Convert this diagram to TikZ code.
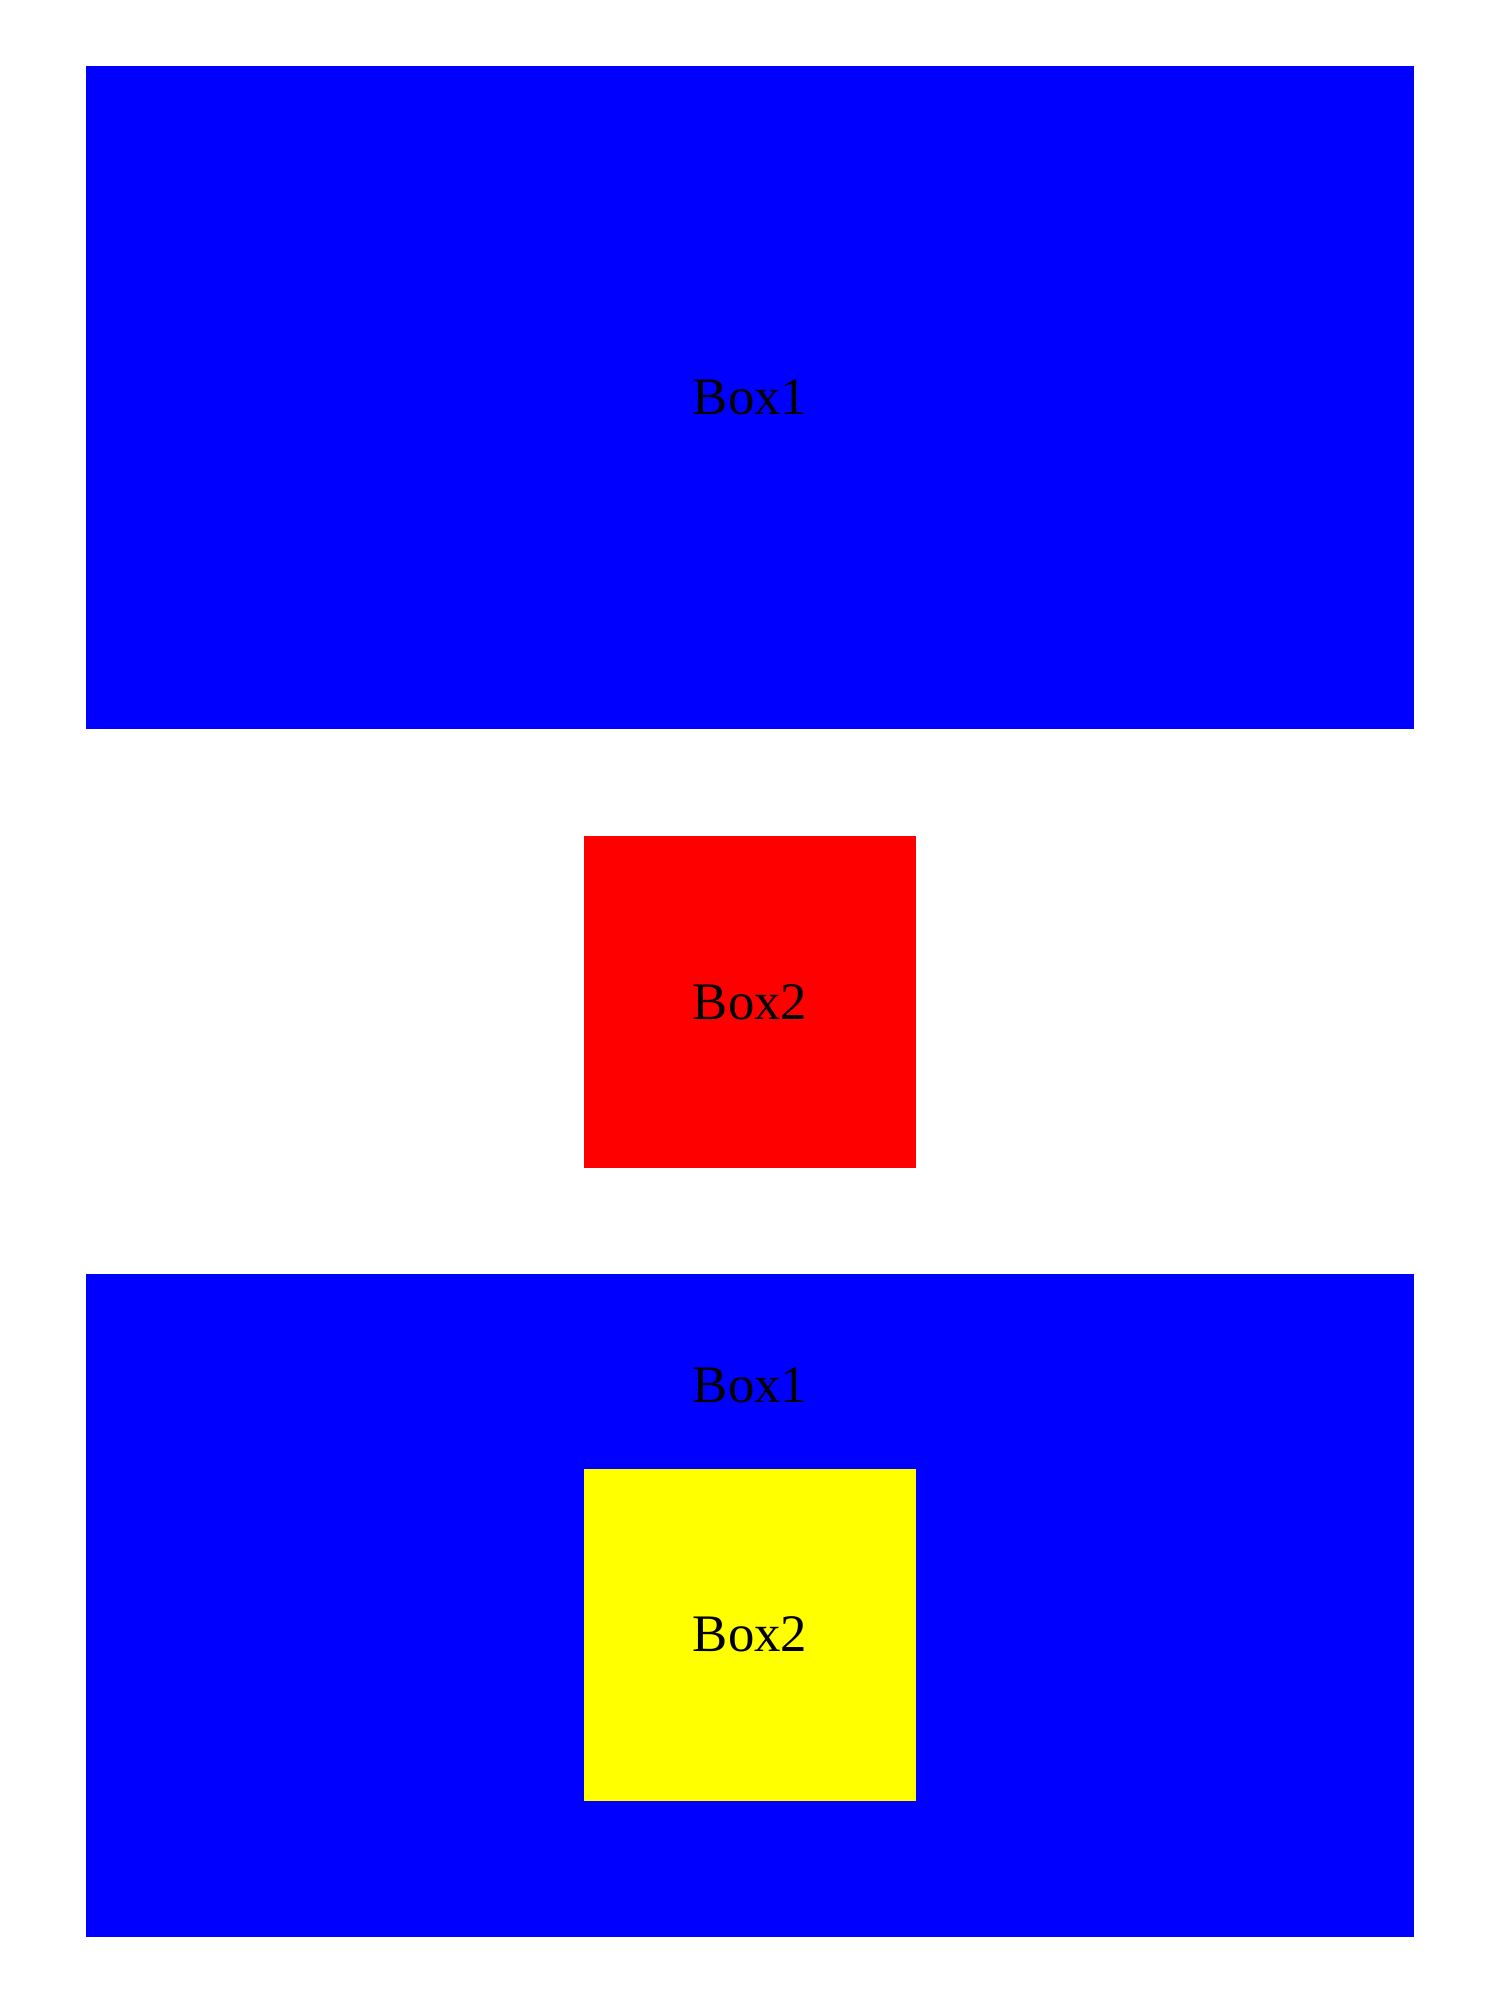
\documentclass[tikz,border=0pt]{standalone}
\usepackage{xcolor}
\usepackage{fontspec}
\setmainfont{Liberation Serif}
\usepackage{tikz}
\usetikzlibrary{positioning}
\definecolor{boxblue}{RGB}{0,0,255}
\definecolor{boxred}{RGB}{255,0,0}
\definecolor{boxyellow}{RGB}{255,255,0}
\newcommand{\boxfont}{\fontsize{15}{18}\selectfont}

\begin{document}
\begin{tikzpicture}[auto,box/.style={draw=none,inner sep=0pt,font=\boxfont},
    wide/.style={box,fill=boxblue,minimum width=13.28cm,minimum height=6.63cm},
    square/.style={box,minimum width=3.32cm,minimum height=3.32cm}]
    \useasboundingbox (0,0) rectangle (15,-20.14);

    \coordinate (C1) at (7.5,-3.973);
    \coordinate (C2) at (7.5,-10.018);
    \coordinate (C3) at (7.5,-16.055);
    \coordinate (C3a) at (7.5,-13.855);
    \coordinate (C4) at (7.5,-16.345);

    % separate boxes
    \node[wide] (box1) at (C1) {Box1};
    \node[square,fill=boxred] (box2) at (C2) {Box2};

    % nested boxes
    \node[wide] (outer) at (C3) {};
    \node[box] (outerlbl) at (C3a) {Box1};
    \node[square,fill=boxyellow] (inner) at (C4) {Box2};

\end{tikzpicture}
\end{document}
